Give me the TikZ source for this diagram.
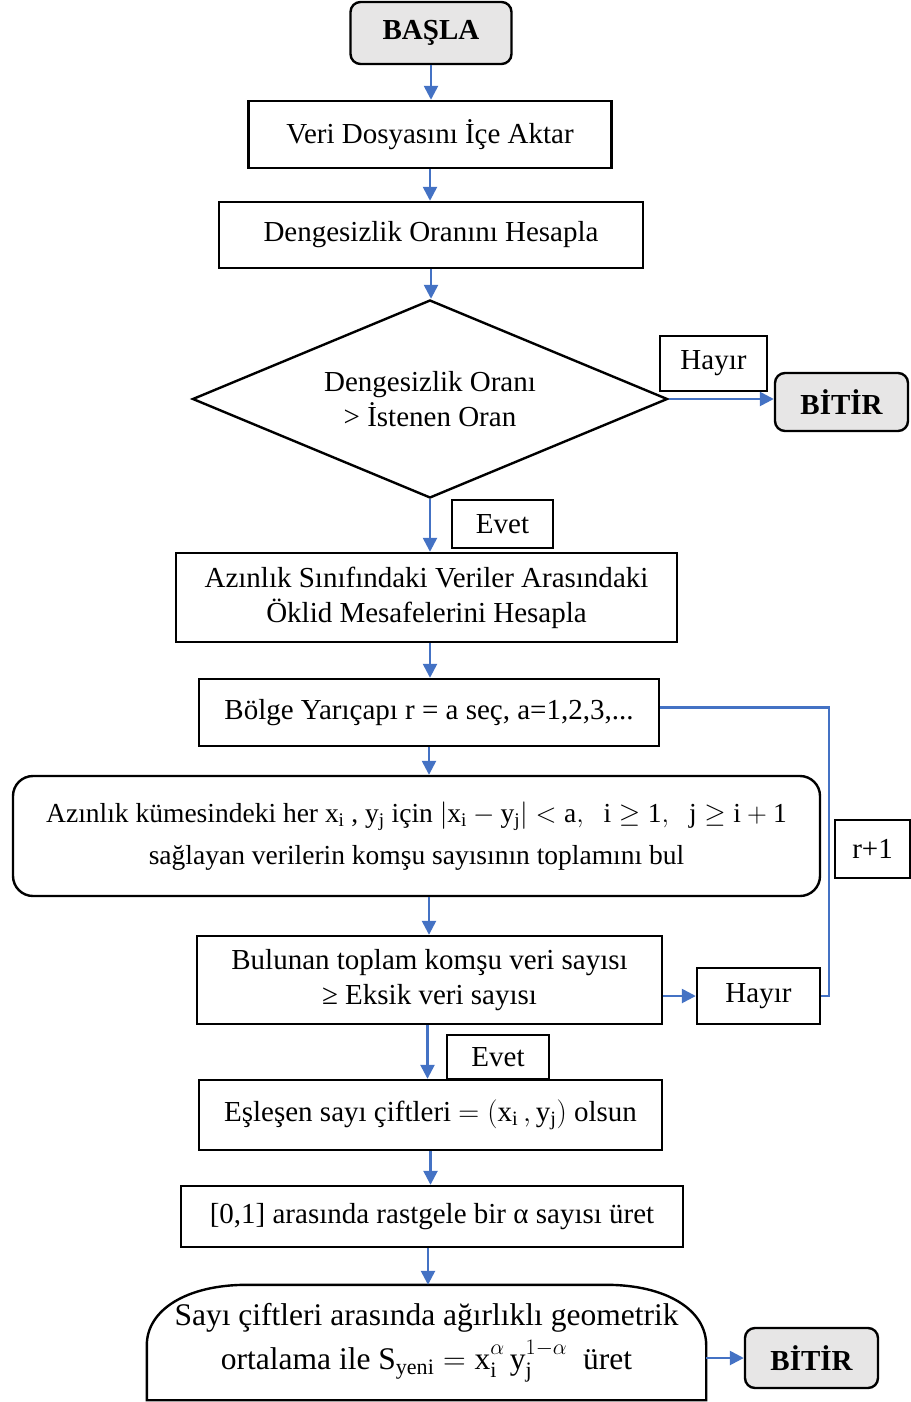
\documentclass[tikz,border=0pt]{standalone}
\usepackage{fix-cm}
\usepackage{fontspec}
\setmainfont{Liberation Serif}
\usetikzlibrary{arrows.meta,positioning,calc,shapes.geometric}
\definecolor{flowblue}{HTML}{4472C4}
\definecolor{termgray}{HTML}{E7E6E6}
\newcommand{\upexp}[1]{^{\raisebox{4pt}{$\scriptstyle #1$}}}

\begin{document}
\begin{tikzpicture}[
  x=1pt,y=-1pt,
  every node/.style={font=\fontsize{29}{35}\selectfont},
  box/.style={draw,line width=2.4pt,align=center,inner sep=0pt},
  term/.style={box,rounded corners=10pt,fill=termgray,font=\fontsize{29}{35}\selectfont\bfseries},
  lbl/.style={box},
  arr/.style={-{Triangle[length=14pt,width=14pt]},line width=2.5pt,draw=flowblue},
  back/.style={line width=2.5pt,draw=flowblue}
]
\useasboundingbox (0,0) rectangle (910,1402);
\node[term,minimum width=161pt,minimum height=62pt] (basla) at (431,33) {BAŞLA};
\node[box,minimum width=363pt,minimum height=67pt] (veri) at (430,134.5) {Veri Dosyasını İçe Aktar};
\node[box,minimum width=424pt,minimum height=66pt] (oran) at (431,235) {Dengesizlik Oranını Hesapla};
\node[draw,diamond,line width=2.4pt,aspect=2.4,minimum width=475pt,minimum height=198pt,inner sep=0pt,align=center] (karar) at (430,399) {Dengesizlik Oranı\\> İstenen Oran};
\node[lbl,minimum width=107pt,minimum height=55pt] (hayir1) at (713.5,363.5) {Hayır};
\node[term,minimum width=133pt,minimum height=58pt] (bitir1) at (841.5,402) {BİTİR};
\node[lbl,minimum width=101pt,minimum height=48pt] (evet1) at (502.5,524) {Evet};
\node[box,minimum width=501pt,minimum height=89pt] (azin) at (426.5,597.5) {Azınlık Sınıfındaki Veriler Arasındaki\\Öklid Mesafelerini Hesapla};
\node[box,minimum width=460pt,minimum height=67pt] (bolge) at (429,712.5) {Bölge Yarıçapı r = a seç, a=1,2,3,...};
\node[box,rounded corners=20pt,minimum width=807pt,minimum height=120pt,font=\fontsize{27.5}{33}\selectfont] (komsu) at (416.5,836)
  {Azınlık kümesindeki her $\mathrm{x_i}$ , $\mathrm{y_j}$ için $\bigl|\mathrm{x_i}-\mathrm{y_j}\bigr|<\mathrm{a},\;\;\mathrm{i}\geq\mathrm{1},\;\;\mathrm{j}\geq\mathrm{i}+\mathrm{1}$\\[9pt]
   sağlayan verilerin komşu sayısının toplamını bul};
\node[box,minimum width=465pt,minimum height=88pt] (bulunan) at (429.5,980) {Bulunan toplam komşu veri sayısı\\≥ Eksik veri sayısı};
\node[lbl,minimum width=123pt,minimum height=56pt] (hayir2) at (758.5,996) {Hayır};
\node[lbl,minimum width=75pt,minimum height=58pt] (rbir) at (872.5,849) {r+1};
\node[lbl,minimum width=102pt,minimum height=44pt] (evet2) at (498,1057) {Evet};
\node[box,minimum width=463pt,minimum height=70pt] (esles) at (430.5,1115) {Eşleşen sayı çiftleri $=(\mathrm{x_i}\,,\mathrm{y_j})$\ olsun};
\node[box,minimum width=502pt,minimum height=61pt] (alfa) at (432,1216.5) {[0,1] arasında rastgele bir α sayısı üret};
\node[align=center,minimum width=559pt,minimum height=115pt,inner sep=0pt,font=\fontsize{31.5}{36}\selectfont] (sayi) at (426.5,1342.5)
  {Sayı çiftleri arasında ağırlıklı geometrik\\[7pt]
   ortalama ile $\mathrm{S_{yeni}}=\mathrm{x}_{\mathrm{i}}\upexp{\alpha}\,\mathrm{y}_{\mathrm{j}}\upexp{1-\alpha}$\ \ üret};
\node[term,minimum width=133pt,minimum height=60pt] (bitir3) at (811.5,1358) {BİTİR};
% alt kutunun kubbe biçimi
\draw[line width=2.4pt] (sayi.south west) -- ($(sayi.south west)+(0,-55)$)
  .. controls ($(sayi.north west)+(0,25)$) and ($(sayi.north west)+(40,0)$) .. ($(sayi.north west)+(100,0)$)
  -- ($(sayi.north east)+(-100,0)$)
  .. controls ($(sayi.north east)+(-40,0)$) and ($(sayi.north east)+(0,25)$) .. ($(sayi.south east)+(0,-55)$)
  -- (sayi.south east) -- cycle;
% akis oklari
\draw[arr] (basla.south) -- (basla.south |- veri.north);
\draw[arr] (veri.south) -- (veri.south |- oran.north);
\draw[arr] (oran.south) -- (oran.south |- karar.north);
\draw[arr] (karar.east) -- (karar.east -| bitir1.west);
\draw[arr] (karar.south) -- (karar.south |- azin.north);
\draw[arr] (azin.south -| karar.south) -- (karar.south |- bolge.north);
\draw[arr] (bolge.south) -- (bolge.south |- komsu.north);
\draw[arr] (bolge.south |- komsu.south) -- (bolge.south |- bulunan.north);
\draw[arr] (bulunan.east |- hayir2.west) -- (hayir2.west);
\draw[back] (hayir2.east) -- ++(8,0) |- ([yshift=5pt]bolge.east);
\draw[arr] ([xshift=-2pt]bulunan.south) -- ([xshift=-2pt]bulunan.south |- esles.north);
\draw[arr] (esles.south) -- (esles.south |- alfa.north);
\draw[arr] ([xshift=-4pt]alfa.south) -- ([xshift=-4pt]alfa.south |- sayi.north);
\draw[arr] (bitir3.west -| sayi.east) -- (bitir3.west);
\end{tikzpicture}
\end{document}
